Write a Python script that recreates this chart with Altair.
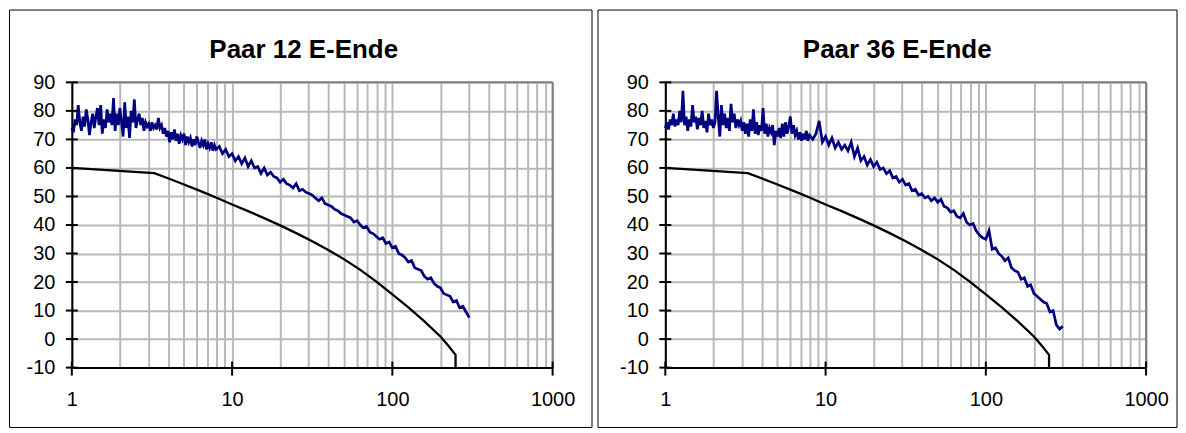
import altair as alt
import pandas as pd

# ---------------- data ----------------
freq = [
    1.000, 1.023, 1.047, 1.072, 1.096, 1.122, 1.148, 1.175, 1.202, 1.230,
    1.259, 1.288, 1.318, 1.349, 1.380, 1.413, 1.445, 1.479, 1.514, 1.549,
    1.585, 1.622, 1.660, 1.698, 1.738, 1.778, 1.820, 1.862, 1.905, 1.950,
    1.995, 2.042, 2.089, 2.138, 2.188, 2.239, 2.291, 2.344, 2.399, 2.455,
    2.512, 2.570, 2.630, 2.692, 2.754, 2.818, 2.884, 2.951, 3.020, 3.090,
    3.162, 3.236, 3.311, 3.388, 3.467, 3.548, 3.631, 3.715, 3.802, 3.890,
    3.981, 4.074, 4.169, 4.266, 4.365, 4.467, 4.571, 4.677, 4.786, 4.898,
    5.012, 5.129, 5.248, 5.370, 5.495, 5.623, 5.754, 5.888, 6.026, 6.166,
    6.310, 6.457, 6.607, 6.761, 6.918, 7.079, 7.244, 7.413, 7.586, 7.762,
    7.943, 8.318, 8.710, 9.120, 9.550, 10.00, 10.47, 10.96, 11.48, 12.02,
    12.59, 13.18, 13.80, 14.45, 15.14, 15.85, 16.60, 17.38, 18.20, 19.05,
    19.95, 20.89, 21.88, 22.91, 23.99, 25.12, 26.30, 27.54, 28.84, 30.20,
    31.62, 33.11, 34.67, 36.31, 38.02, 39.81, 41.69, 43.65, 45.71, 47.86,
    50.12, 52.48, 54.95, 57.54, 60.26, 63.10, 66.07, 69.18, 72.44, 75.86,
    79.43, 83.18, 87.10, 91.20, 95.50, 100.0, 104.7, 109.6, 114.8, 120.2,
    125.9, 131.8, 138.0, 144.5, 151.4, 158.5, 166.0, 173.8, 182.0, 190.5,
    199.5, 208.9, 218.8, 229.1, 239.9, 251.2, 263.0, 275.4, 288.4, 302.0,
]

left_vals = [
    74, 72.5, 77, 75, 82, 76, 73, 78, 74.5, 80.5,
    77, 71.5, 76, 79, 74, 78, 81, 75, 82, 72,
    77, 74, 80.5, 76, 79, 75, 84.5, 73, 79, 75,
    81, 76, 71, 83, 74, 78, 70.5, 80, 76, 84,
    74, 77, 79, 75, 77.5, 73, 76, 74.5, 75.5, 73,
    76, 74, 75, 73.5, 77.5, 74, 75, 72, 74, 71,
    73, 69, 72.5, 70, 73.5, 69.5, 72, 68.5, 71.5, 70,
    72, 68, 71, 69, 70.5, 67.5, 70, 68, 71, 69,
    67, 69.5, 68, 70, 66.5, 68.5, 67, 69, 66, 68,
    66.5, 67.5, 65, 66.5, 64, 65, 62.5, 64, 61.5, 63.5,
    60.5, 62.5, 60, 60.5, 58, 60, 57.5, 58.5, 57, 56.5,
    55, 56, 54.5, 54, 53, 54.5, 52, 52.5, 51.5, 51,
    50.5, 49.5, 48.5, 49.5, 47.5, 47, 46.5, 45.5, 45, 44,
    43.5, 43, 42.5, 41, 41.5, 40, 39, 39.5, 37.5, 37,
    36, 35, 35.5, 33.5, 34, 32, 32.5, 30, 29.5, 28.5,
    27, 27.5, 25, 24.5, 24, 22, 21, 21.5, 19.5, 18.5,
    18, 16, 15.5, 15, 13, 13.5, 11, 11.5, 9.5, 7.5,
]

right_vals = [
    74, 76, 73.5, 77, 75, 79, 74.5, 77, 75, 80,
    76, 87, 75, 78, 73, 77, 74.5, 82, 76, 78,
    73.5, 77.5, 75, 80, 74, 76.5, 72.5, 79, 75, 77,
    74, 76, 87, 78, 71, 82, 75, 79, 74, 77.5,
    73, 82.5, 76, 79, 74, 77, 75, 76.5, 73, 76,
    72, 75.5, 71, 77, 73, 80.5, 72, 76, 71.5, 75,
    73, 81, 72, 75.5, 71, 74, 72.5, 75, 68, 73,
    71, 74, 70.5, 75.5, 71, 76, 72, 74.5, 78, 72,
    75, 71.5, 73, 70, 72.5, 69.5, 72, 70, 73, 69.5,
    71.5, 70, 72, 76.5, 69, 71, 68, 70.5, 67, 69,
    66.5, 68, 66, 69, 64, 67, 62.5, 64, 61, 63,
    60.5, 62, 59.5, 60, 58, 59, 56.5, 57, 55, 56,
    54, 54.5, 52, 52.5, 50.5, 51, 49.5, 50, 48.5, 49.5,
    48, 49, 46.5, 46, 44.5, 45, 43, 42.5, 44, 41,
    40, 40.5, 38, 36.5, 35.5, 35, 38, 31.5, 32, 30,
    29, 27.5, 28.5, 25, 24, 23.5, 21, 21.5, 18.5, 19,
    16, 15, 14, 13, 12.5, 9.5, 10, 5, 3.5, 4.5,
]

limit_freq = [1, 3.27, 3.98, 5.01, 6.31, 7.94, 10, 12.59, 15.85, 19.95, 25.12, 31.62,
              39.81, 50.12, 63.10, 79.43, 100, 125.9, 158.5, 199.5, 225, 248, 248]
limit_vals = [60, 58.2, 56.4, 54.2, 51.95, 49.65, 47.2, 44.85, 42.4, 39.85, 37.15, 34.3,
              31.25, 27.95, 24.25, 20.15, 15.7, 11.1, 6.2, 0.9, -2.5, -5.5, -10]

titles = ["Paar 12 E-Ende", "Paar 36 E-Ende"]
x_labels = [1, 10, 100, 1000]
x_grid = [1, 2, 3, 4, 5, 6, 7, 8, 9,
          10, 20, 30, 40, 50, 60, 70, 80, 90,
          100, 200, 300, 400, 500, 600, 700, 800, 900, 1000]
y_ticks = [-10, 0, 10, 20, 30, 40, 50, 60, 70, 80, 90]

# ---------------- styling ----------------
FONT = "Liberation Sans"
W, H = 482, 286
GRID = "#b8b8b8"

x_scale = alt.Scale(type="log", domain=[1, 1000], nice=False)
y_scale = alt.Scale(domain=[-10, 90], nice=False, zero=False)

x_axis = alt.Axis(
    values=x_grid, format="d",
    labelExpr="(datum.value == 1 || datum.value == 10 || datum.value == 100 || datum.value == 1000) ? datum.label : ''",
    grid=True, gridColor=GRID, gridWidth=2,
    ticks=False, tickSize=0,
    domain=True, domainColor="#000000", domainWidth=2,
    labelFont=FONT, labelFontSize=20, labelColor="#000000",
    labelPadding=22, labelFlush=False, labelOverlap=False, title=None,
)
y_axis = alt.Axis(
    values=y_ticks, labelExpr="'' + datum.value",
    grid=True, gridColor=GRID, gridWidth=2,
    ticks=False, tickSize=0,
    domain=True, domainColor="#000000", domainWidth=2,
    labelFont=FONT, labelFontSize=20, labelColor="#000000",
    labelPadding=17, labelOverlap=False, title=None,
)


def X(field):
    return alt.X(field, type="quantitative", scale=x_scale, axis=x_axis)


def Y(field):
    return alt.Y(field, type="quantitative", scale=y_scale, axis=y_axis)


def one():
    return pd.DataFrame({"k": [0]})


def panel(title, vals, box_left, box_right):
    df = pd.DataFrame({"f": freq, "v": vals})
    lim = pd.DataFrame({"f": limit_freq, "v": limit_vals,
                        "i": list(range(len(limit_freq)))})
    yt = pd.DataFrame({"v": y_ticks})
    xt = pd.DataFrame({"f": x_labels})

    box = alt.Chart(one()).mark_rect(
        fill="#ffffff", fillOpacity=0, stroke="#000000", strokeWidth=1
    ).encode(x=alt.value(box_left), x2=alt.value(box_right),
             y=alt.value(-72.5), y2=alt.value(346))

    ttl = alt.Chart(pd.DataFrame({"t": [title]})).mark_text(
        font=FONT, fontSize=26, fontWeight="bold", color="#000000",
        align="center", baseline="alphabetic"
    ).encode(x=alt.value(232.5), y=alt.value(-24), text="t:N")

    blue = alt.Chart(df).mark_line(color="#000080", strokeWidth=2.7).encode(
        x=X("f"), y=Y("v"))

    black = alt.Chart(lim).mark_line(color="#000000", strokeWidth=2.3).encode(
        x=X("f"), y=Y("v"), order="i:Q")

    ytick = alt.Chart(yt).mark_rule(color="#000000", strokeWidth=2).encode(
        y=Y("v"), x=alt.value(-6), x2=alt.value(6))

    xtick = alt.Chart(xt).mark_rule(color="#000000", strokeWidth=2).encode(
        x=X("f"), y=alt.value(H - 6), y2=alt.value(H + 8))

    top_border = alt.Chart(one()).mark_rule(color="#808080", strokeWidth=2).encode(
        x=alt.value(0), x2=alt.value(W), y=alt.value(0))
    right_border = alt.Chart(one()).mark_rule(color="#808080", strokeWidth=2).encode(
        x=alt.value(W), y=alt.value(0), y2=alt.value(H))

    return alt.layer(box, top_border, right_border, black, blue, ytick, xtick, ttl).properties(
        width=W, height=H)


left = panel(titles[0], left_vals, -62.5, 521.5)
right = panel(titles[1], right_vals, -67.5, 513)

chart = alt.hconcat(left, right, spacing=3).properties(
    padding={"left": 0, "top": 0, "right": 0, "bottom": 0},
    background="#ffffff",
).configure(font=FONT).configure_view(stroke="transparent")

chart.save("out.html", embed_options={"renderer": "svg", "actions": False})
